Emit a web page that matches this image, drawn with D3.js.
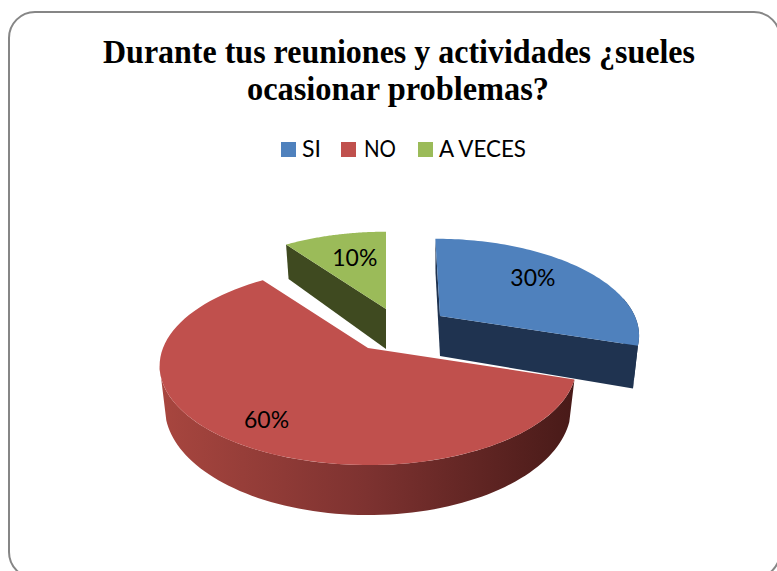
<!DOCTYPE html>
<html>
<head>
<meta charset="utf-8">
<script src="https://cdn.jsdelivr.net/npm/d3@7"></script>
<style>
  html, body { margin: 0; padding: 0; background: #fff; overflow: hidden; }
</style>
</head>
<body>
<div id="chart"></div>
<script>
const categories = ["SI", "NO", "A VECES"];
const values = [30, 60, 10];
const titleLines = ["Durante tus reuniones y actividades ¿sueles", "ocasionar problemas?"];

const topColors = ["#4f81bd", "#c0504d", "#9bbb59"];
const wallColors = ["#1f3350", "#7d3230", "#3f4a20"];

// where each slice sits after being pulled out of the pie
const apex = [[440, 316], [368, 348], [386, 309]];
const sliceScale = [0.95, 1, 0.95];
const sliceSkew = [0.06, 0, 0];
const labelRadius = [0.65, 0.75, 0.65];
const labelNudge = [[-1, -5], [0, 7], [4, 0]];

const width = 777;
const height = 571;
const radiusX = 205;
const radiusY = 96;
const perspective = 0.18;
const depth = 40;

const svg = d3
  .select("#chart")
  .append("svg")
  .attr("width", width)
  .attr("height", height)
  .style("display", "block");

const color = d3.scaleOrdinal().domain(categories).range(topColors);
const wall = d3.scaleOrdinal().domain(categories).range(wallColors);

// rounded frame, runs off the right and bottom of the picture
svg
  .append("rect")
  .attr("x", 9)
  .attr("y", 12)
  .attr("width", 771)
  .attr("height", 566)
  .attr("rx", 26)
  .attr("fill", "#fff")
  .attr("stroke", "#868686")
  .attr("stroke-width", 2);

const titleWidths = [592, 302];
svg
  .selectAll(".title")
  .data(titleLines)
  .enter()
  .append("text")
  .attr("class", "title")
  .attr("x", (d, i) => (i === 0 ? 399 : 398))
  .attr("y", (d, i) => 63 + i * 37)
  .attr("text-anchor", "middle")
  .attr("textLength", (d, i) => titleWidths[i])
  .attr("lengthAdjust", "spacingAndGlyphs")
  .style("font-family", "'Liberation Serif', serif")
  .style("font-weight", "bold")
  .style("font-size", "33px")
  .attr("fill", "#000")
  .text((d) => d);

// legend
const swatchX = [281, 341, 418];
const legendTextX = [302, 364, 439];
const legendWidths = [19, 32, 87];
const legend = svg
  .selectAll(".legend")
  .data(categories)
  .enter()
  .append("g")
  .attr("class", "legend");

legend
  .append("rect")
  .attr("x", (d, i) => swatchX[i])
  .attr("y", 142)
  .attr("width", 15)
  .attr("height", 15)
  .attr("fill", (d) => color(d));

legend
  .append("text")
  .attr("x", (d, i) => legendTextX[i])
  .attr("y", 157)
  .attr("textLength", (d, i) => legendWidths[i])
  .attr("lengthAdjust", "spacingAndGlyphs")
  .style("font-family", "Lato, sans-serif")
  .style("font-size", "23px")
  .attr("fill", "#000")
  .text((d) => d);

// pie angles come from d3, the tilt is a perspective map of the unit circle
const pie = d3.pie().sort(null).value((d) => d)(values);

function project(i, angle, r, lower) {
  const u = r * Math.sin(angle);
  const v = -r * Math.cos(angle);
  const w = 1 - perspective * v;
  const dy = (sliceScale[i] * radiusY * v) / w;
  const dx = (sliceScale[i] * radiusX * u) / w + sliceSkew[i] * dy;
  if (lower) {
    return [apex[i][0] + dx * 0.975, apex[i][1] + dy * 1.085 + depth];
  }
  return [apex[i][0] + dx, apex[i][1] + dy];
}

function arcPoints(i, a0, a1, lower) {
  const n = 80;
  return d3.range(n + 1).map((k) => project(i, a0 + ((a1 - a0) * k) / n, 1, lower));
}

const line = d3.line();

const defs = svg.append("defs");
const redGrad = defs
  .append("linearGradient")
  .attr("id", "redWall")
  .attr("gradientUnits", "userSpaceOnUse")
  .attr("x1", 160)
  .attr("x2", 575)
  .attr("y1", 0)
  .attr("y2", 0);
redGrad.append("stop").attr("offset", "0%").attr("stop-color", "#a8463f");
redGrad.append("stop").attr("offset", "50%").attr("stop-color", "#7d3230");
redGrad.append("stop").attr("offset", "100%").attr("stop-color", "#481a18");

const order = [1, 2, 0];
order.forEach((i) => {
  const d = pie[i];
  const cat = categories[i];
  const g = svg.append("g").attr("class", "slice");

  // outer wall, only the part of the rim facing the viewer
  // left end: silhouette runs from the widest point of the top to the lower rim
  const from = Math.max(d.startAngle, Math.PI / 2 - 0.2);
  const toTop = Math.min(d.endAngle, (3 * Math.PI) / 2 - 0.18);
  const toLow = Math.min(d.endAngle, (3 * Math.PI) / 2 - 0.3);
  if (toTop > from) {
    g.append("path")
      .attr("d", line(arcPoints(i, from, toTop, false).concat(arcPoints(i, from, toLow, true).reverse())) + "Z")
      .attr("fill", i === 1 ? "url(#redWall)" : wall(cat));
  }

  // cut walls of the exploded slices
  if (i !== 1) {
    [d.startAngle, d.endAngle].forEach((a) => {
      g.append("path")
        .attr(
          "d",
          line([
            project(i, a, 0, false),
            project(i, a, 1, false),
            project(i, a, 1, true),
            project(i, a, 0, true),
          ]) + "Z"
        )
        .attr("fill", wall(cat));
    });
  }

  // top face
  g.append("path")
    .attr("d", line([project(i, 0, 0, false)].concat(arcPoints(i, d.startAngle, d.endAngle, false))) + "Z")
    .attr("fill", color(cat));
});

// percentage labels
svg
  .selectAll(".value")
  .data(pie)
  .enter()
  .append("text")
  .attr("class", "value")
  .attr("text-anchor", "middle")
  .attr("x", (d, i) => project(i, (d.startAngle + d.endAngle) / 2, labelRadius[i], false)[0] + labelNudge[i][0])
  .attr("y", (d, i) => project(i, (d.startAngle + d.endAngle) / 2, labelRadius[i], false)[1] + labelNudge[i][1] + 8)
  .attr("textLength", 45)
  .attr("lengthAdjust", "spacingAndGlyphs")
  .style("font-family", "Lato, sans-serif")
  .style("font-size", "24px")
  .attr("fill", "#000")
  .text((d) => d.data + "%");
</script>
</body>
</html>
